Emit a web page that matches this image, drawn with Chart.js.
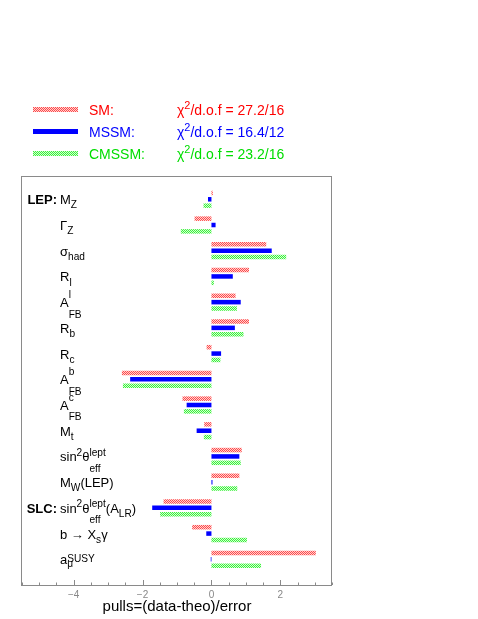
<!DOCTYPE html>
<html>
<head>
<meta charset="utf-8">
<title>pulls</title>
<script src="https://cdn.jsdelivr.net/npm/chart.js@4/dist/chart.umd.min.js"></script>
<style>
  html, body { margin: 0; padding: 0; background: #fff; }
  canvas { display: block; }
</style>
</head>
<body>
<canvas id="c" width="478" height="619"></canvas>
<script>
// observables, top to bottom (^ = superscript, _ = subscript, ROOT style)
const categories = [
  'M_{Z}', 'Γ_{Z}', 'σ_{had}', 'R_{l}', 'A^{l}_{FB}', 'R_{b}', 'R_{c}',
  'A^{b}_{FB}', 'A^{c}_{FB}', 'M_{t}', 'sin^{2}θ^{lept}_{eff}', 'M_{W}(LEP)',
  'sin^{2}θ^{lept}_{eff}(A_{LR})', 'b → X_{s}γ', 'a_{μ}^{SUSY}'
];
const groupLabels = ['LEP:', '', '', '', '', '', '', '', '', '', '', '', 'SLC:', '', ''];

// pulls = (data - theo) / error
const smPulls    = [0.04, -0.49, 1.59, 1.09, 0.70, 1.09, -0.14, -2.60, -0.84, -0.21, 0.88, 0.81, -1.39, -0.56, 3.03];
const mssmPulls  = [-0.10, 0.12, 1.75, 0.62, 0.85, 0.68, 0.28, -2.36, -0.72, -0.43, 0.81, 0.03, -1.72, -0.15, -0.02];
const cmssmPulls = [-0.23, -0.89, 2.17, 0.07, 0.74, 0.93, 0.26, -2.57, -0.80, -0.22, 0.85, 0.75, -1.49, 1.03, 1.44];

const seriesNames = ['SM', 'MSSM', 'CMSSM'];
const chi2Labels  = ['27.2/16', '16.4/12', '23.2/16'];
const xLabelValues = [-4, -2, 0, 2];

const SANS = '"Liberation Sans", Arial, sans-serif';

const canvas = document.getElementById('c');
const mainCtx = canvas.getContext('2d');

// fine checker fill, like the ROOT dotted fill style
function checker(c1, c2) {
  const p = document.createElement('canvas');
  p.width = p.height = 2;
  const g = p.getContext('2d');
  g.fillStyle = c2; g.fillRect(0, 0, 2, 2);
  g.fillStyle = c1; g.fillRect(0, 0, 1, 1); g.fillRect(1, 1, 1, 1);
  return mainCtx.createPattern(p, 'repeat');
}
const redFill = checker('#ff4a4a', '#ffd2d2');
const greenFill = checker('#3cf03c', '#d2ffd2');
const fills = [redFill, '#0000ff', greenFill];
const textColors = ['#ff0000', '#0000ff', '#00dd00'];

// tiny TLatex-like text: ^{..} and _{..}
function parseRich(str) {
  const out = [];
  let buf = '', i = 0;
  while (i < str.length) {
    const c = str[i];
    if (c === '^' || c === '_') {
      if (buf) { out.push({ t: buf, m: 'n' }); buf = ''; }
      let t;
      if (str[i + 1] === '{') { const j = str.indexOf('}', i); t = str.slice(i + 2, j); i = j + 1; }
      else { t = str[i + 1]; i += 2; }
      out.push({ t, m: c === '^' ? 'sup' : 'sub' });
    } else { buf += c; i++; }
  }
  if (buf) out.push({ t: buf, m: 'n' });
  return out;
}

function drawRun(ctx, text, x, y, px, bold) {
  ctx.font = (bold ? 'bold ' : '') + px + 'px ' + SANS;
  ctx.fillText(text, x, y);
  return ctx.measureText(text).width;
}

function drawRich(ctx, str, x, y, px) {
  const parts = parseRich(str);
  const sp = px * 0.78;
  let prev = '';
  for (let k = 0; k < parts.length; k++) {
    const p = parts[k];
    if (p.m === 'n') {
      x += drawRun(ctx, p.t, x, y, px);
      prev = p.t.slice(-1);
      continue;
    }
    const next = parts[k + 1];
    const paired = next && next.m !== 'n' && next.m !== p.m;
    const upper = /[A-Z]/.test(prev);
    const tall = upper || /[bdfhklθ]/.test(prev);
    let supDy, subDy;
    if (!paired) { supDy = -0.45 * px; subDy = 0.32 * px; }
    else if (tall) { supDy = (upper ? -0.7 : -0.45) * px; subDy = 0.8 * px; }
    else { supDy = -0.2 * px; subDy = 0.2 * px; }
    let w = drawRun(ctx, p.t, x, y + (p.m === 'sup' ? supDy : subDy), sp);
    if (paired) {
      w = Math.max(w, drawRun(ctx, next.t, x, y + (next.m === 'sup' ? supDy : subDy), sp));
      k++;
    }
    x += w;
    prev = '';
  }
  return x;
}

const decor = {
  id: 'decor',
  afterDraw(chart) {
    const ctx = chart.ctx;
    const a = chart.chartArea;
    const xs = chart.scales.x, ys = chart.scales.y;
    ctx.save();

    // frame
    ctx.strokeStyle = '#8a8a8a';
    ctx.lineWidth = 1;
    ctx.strokeRect(Math.round(a.left) - 0.5, Math.round(a.top) + 0.5,
                   Math.round(a.right - a.left), Math.round(a.bottom - a.top));

    // inward ticks on the bottom axis
    ctx.beginPath();
    xs.ticks.forEach(t => {
      const px = Math.round(xs.getPixelForValue(t.value)) + 0.5;
      const len = xLabelValues.includes(t.value) ? 5 : 2.5;
      ctx.moveTo(px, a.bottom);
      ctx.lineTo(px, a.bottom - len);
    });
    ctx.stroke();

    // row labels
    ctx.fillStyle = '#000';
    ctx.textBaseline = 'alphabetic';
    categories.forEach((lab, i) => {
      const y = ys.getPixelForValue(i) + 5;
      drawRich(ctx, lab, 60, y, 13);
      if (groupLabels[i]) {
        ctx.font = 'bold 13px ' + SANS;
        ctx.textAlign = 'right';
        ctx.fillText(groupLabels[i], 57, y);
        ctx.textAlign = 'left';
      }
    });

    // legend
    seriesNames.forEach((name, i) => {
      const y = 109.5 + i * 22;
      ctx.fillStyle = fills[i];
      ctx.fillRect(33, y - 2.5, 45, 5);
      ctx.fillStyle = textColors[i];
      drawRun(ctx, name + ':', 89, y + 5.5, 14);
      drawRich(ctx, 'χ^{2}/d.o.f = ' + chi2Labels[i], 177, y + 5.5, 14);
    });
    ctx.restore();
  }
};

function series(values) {
  return values.map((v, i) => ({ x: v, y: i }));
}

new Chart(canvas, {
  type: 'bar',
  data: {
    datasets: [smPulls, mssmPulls, cmssmPulls].map((vals, k) => ({
      label: seriesNames[k],
      data: series(vals),
      backgroundColor: fills[k],
      borderWidth: 0,
      categoryPercentage: 0.82,
      barPercentage: 0.71
    }))
  },
  options: {
    indexAxis: 'y',
    responsive: false,
    animation: false,
    events: [],
    layout: { padding: { left: 22, right: 146, top: 176, bottom: 0 } },
    scales: {
      y: {
        type: 'linear',
        reverse: true,
        offset: false,
        min: -0.906,
        max: 15,
        display: false
      },
      x: {
        type: 'linear',
        min: -5.5,
        max: 3.5,
        grid: { display: false, drawTicks: false },
        border: { display: false },
        afterFit: s => { s.height = 34; },
        ticks: {
          stepSize: 0.5,
          autoSkip: false,
          maxRotation: 0,
          padding: 4,
          color: '#888',
          font: { family: SANS, size: 10 },
          callback: v => xLabelValues.includes(v) ? (v < 0 ? '\u2212' + Math.abs(v) : String(v)) : ''
        },
        title: {
          display: true,
          text: 'pulls=(data-theo)/error',
          color: '#000',
          font: { family: SANS, size: 15 },
          padding: { top: 0, bottom: 3 }
        }
      }
    },
    plugins: {
      legend: { display: false },
      tooltip: { enabled: false }
    }
  },
  plugins: [decor]
});
</script>
</body>
</html>
